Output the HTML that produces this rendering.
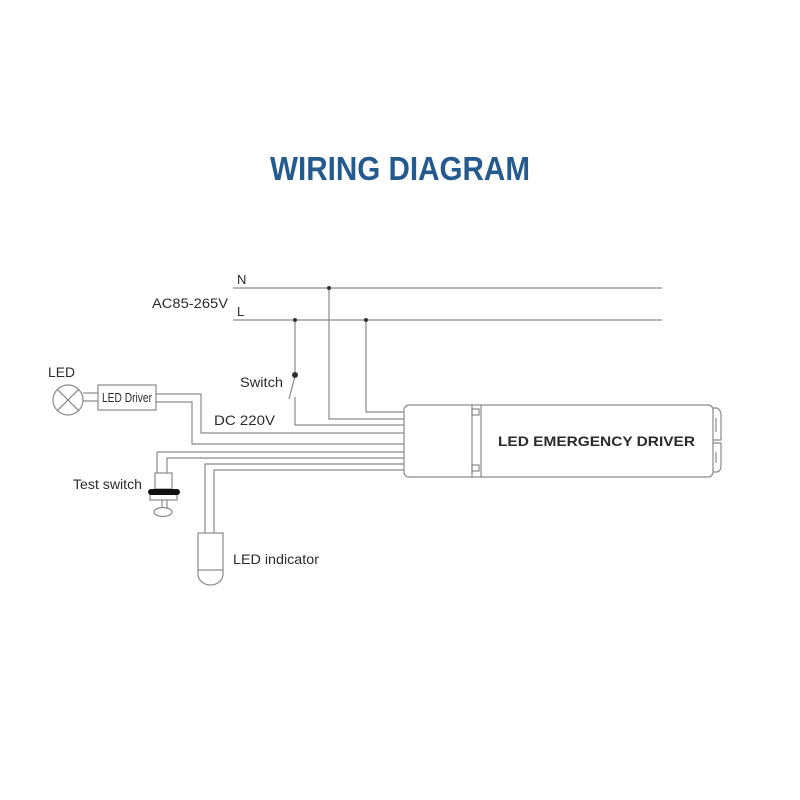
<!DOCTYPE html>
<html>
<head>
<meta charset="utf-8">
<style>
html,body{margin:0;padding:0;background:#fff;}
svg{display:block;}
text{font-family:"Liberation Sans",Arial,sans-serif;}
</style>
</head>
<body>
<svg width="800" height="800" viewBox="0 0 800 800" xmlns="http://www.w3.org/2000/svg">
<rect width="800" height="800" fill="#fff"/>
<!-- Title -->
<text x="270" y="180" font-size="33" font-weight="bold" fill="#255a8f" textLength="260" lengthAdjust="spacingAndGlyphs">WIRING DIAGRAM</text>

<g fill="none" stroke="#8a8a8a" stroke-width="1.2">
  <!-- N and L lines -->
  <line x1="233" y1="288" x2="662" y2="288"/>
  <line x1="233" y1="320" x2="662" y2="320"/>
  <!-- N drop -->
  <polyline points="329,288 329,419 404,419"/>
  <!-- L drop right -->
  <polyline points="366,320 366,412 404,412"/>
  <!-- L switch drop -->
  <polyline points="295,320 295,374"/>
  <line x1="295" y1="376" x2="289" y2="399"/>
  <polyline points="295,397 295,425 404,425"/>
  <!-- DC 220V wires from LED driver -->
  <polyline points="156,394 201,394 201,433 404,433"/>
  <polyline points="156,402 192,402 192,444 404,444"/>
  <!-- lamp to driver -->
  <line x1="83" y1="393" x2="98" y2="393"/>
  <line x1="83" y1="401" x2="98" y2="401"/>
  <!-- Test switch wires -->
  <polyline points="157,473 157,452 404,452"/>
  <polyline points="167,473 167,458 404,458"/>
  <!-- LED indicator wires -->
  <polyline points="205,533 205,464 404,464"/>
  <polyline points="214,533 214,470 404,470"/>
</g>

<!-- junction dots -->
<g fill="#333">
  <circle cx="329" cy="288" r="2"/>
  <circle cx="295" cy="320" r="2"/>
  <circle cx="366" cy="320" r="2"/>
  <circle cx="295" cy="375" r="3"/>
</g>

<!-- LED lamp -->
<g fill="none" stroke="#8a8a8a" stroke-width="1.2">
  <circle cx="68" cy="400" r="15"/>
  <line x1="57.4" y1="389.4" x2="78.6" y2="410.6"/>
  <line x1="78.6" y1="389.4" x2="57.4" y2="410.6"/>
  <!-- LED Driver box -->
  <rect x="98" y="385" width="58" height="25"/>
</g>

<!-- Emergency driver -->
<g fill="none" stroke="#8a8a8a" stroke-width="1.2">
  <rect x="404" y="405" width="309" height="72" rx="5"/>
  <line x1="472" y1="405" x2="472" y2="477"/>
  <line x1="481" y1="405" x2="481" y2="477"/>
  <rect x="472" y="409" width="7" height="6"/>
  <rect x="472" y="465" width="7" height="6"/>
  <!-- end tabs -->
  <path d="M713,408 L717,408 Q721,410 721,415 L721,440 L713,440"/>
  <path d="M713,443 L721,443 L721,466 Q721,471 717,472 L713,472"/>
  <line x1="716" y1="418" x2="716" y2="432"/>
  <line x1="716" y1="452" x2="716" y2="463"/>
</g>

<!-- Test switch -->
<g stroke="#8a8a8a" stroke-width="1.2">
  <rect x="155" y="473" width="17" height="16" fill="#fff"/>
  <rect x="150" y="494" width="27" height="6" fill="#fff"/>
  <rect x="162" y="500" width="5" height="8" fill="#fff"/>
  <ellipse cx="163" cy="512" rx="9" ry="4.5" fill="#fff"/>
</g>
<rect x="148" y="489" width="32" height="6" rx="3" fill="#111"/>

<!-- LED indicator -->
<g fill="none" stroke="#8a8a8a" stroke-width="1.2">
  <rect x="198" y="533" width="25" height="37" fill="#fff"/>
  <path d="M198,570 L198,574 A12.5,11 0 0 0 223,574 L223,570"/>
</g>

<!-- Labels -->
<g fill="#2b2b2b">
  <text x="237" y="284" font-size="13">N</text>
  <text x="237" y="316" font-size="13">L</text>
  <text x="152" y="308" font-size="13.5" textLength="76" lengthAdjust="spacingAndGlyphs">AC85-265V</text>
  <text x="48" y="377" font-size="14" textLength="27" lengthAdjust="spacingAndGlyphs">LED</text>
  <text x="102" y="402" font-size="12.5" textLength="50" lengthAdjust="spacingAndGlyphs">LED Driver</text>
  <text x="240" y="387" font-size="13.5" textLength="43" lengthAdjust="spacingAndGlyphs">Switch</text>
  <text x="214" y="425" font-size="14" textLength="61" lengthAdjust="spacingAndGlyphs">DC 220V</text>
  <text x="498" y="446" font-size="14" font-weight="bold" textLength="197" lengthAdjust="spacingAndGlyphs">LED EMERGENCY DRIVER</text>
  <text x="73" y="489" font-size="13.5" textLength="69" lengthAdjust="spacingAndGlyphs">Test switch</text>
  <text x="233" y="564" font-size="13.5" textLength="86" lengthAdjust="spacingAndGlyphs">LED indicator</text>
</g>
</svg>
</body>
</html>
